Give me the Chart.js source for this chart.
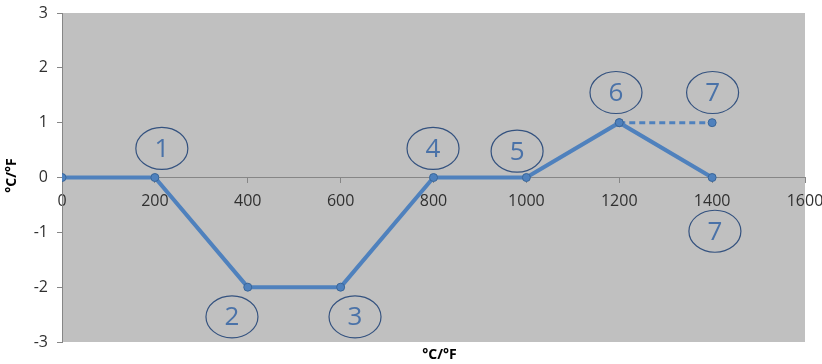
<!DOCTYPE html>
<html>
<head>
<meta charset="utf-8">
<script src="https://cdn.jsdelivr.net/npm/chart.js@4.4.0/dist/chart.umd.min.js"></script>
<style>
  html, body { margin: 0; padding: 0; background: #fff; }
  #wrap { width: 822px; height: 364px; }
</style>
</head>
<body>
<div id="wrap"><canvas id="chart"></canvas></div>
<script>
// main path
const xValues = [0, 200, 400, 600, 800, 1000, 1200, 1400];
const yValues = [0, 0, -2, -2, 0, 0, 1, 0];
// dashed branch
const altX = [1200, 1400];
const altY = [1, 1];
// circled step numbers (data coords)
const stepLabels = ['1', '2', '3', '4', '5', '6', '7', '7'];
const stepX = [215, 366, 631, 799, 980, 1193, 1401, 1406];
const stepY = [0.53, -2.54, -2.54, 0.53, 0.48, 1.55, 1.55, -0.98];
const axisTitle = '°C/°F';

const blue = '#4f81bd';
const axisGrey = '#868686';

const plotBg = {
  id: 'plotBg',
  beforeDraw(chart) {
    const { ctx, chartArea: a } = chart;
    ctx.save();
    ctx.fillStyle = '#c0c0c0';
    ctx.fillRect(a.left, a.top, a.right - a.left, a.bottom - a.top);
    ctx.restore();
  }
};

const extras = {
  id: 'extras',
  afterDatasetsDraw(chart) {
    const { ctx, chartArea: a } = chart;
    const xs = chart.scales.x, ys = chart.scales.y;
    ctx.save();
    // circled numbers
    ctx.font = '26px "Open Sans", sans-serif';
    ctx.textAlign = 'center';
    ctx.textBaseline = 'middle';
    stepLabels.forEach((t, i) => {
      const cx = xs.getPixelForValue(stepX[i]);
      const cy = ys.getPixelForValue(stepY[i]);
      ctx.beginPath();
      ctx.ellipse(cx, cy, 26, 21, 0, 0, Math.PI * 2);
      ctx.strokeStyle = '#34527f';
      ctx.lineWidth = 1.2;
      ctx.stroke();
      ctx.fillStyle = '#4a72a8';
      ctx.fillText(t, cx, cy + 1);
    });
    // axis titles
    ctx.fillStyle = '#000';
    ctx.font = 'bold 14px "Open Sans", sans-serif';
    ctx.fillText(axisTitle, (a.left + a.right) / 2 + 6, 355);
    ctx.translate(12, ys.getPixelForValue(0) - 2);
    ctx.rotate(-Math.PI / 2);
    ctx.fillText(axisTitle, 0, 0);
    ctx.restore();
  }
};

new Chart(document.getElementById('chart'), {
  type: 'scatter',
  data: {
    datasets: [
      {
        data: xValues.map((x, i) => ({ x, y: yValues[i] })),
        showLine: true,
        borderColor: blue,
        borderWidth: 4,
        pointRadius: 4,
        pointBackgroundColor: blue,
        pointBorderColor: '#3a6699',
        pointBorderWidth: 1
      },
      {
        data: altX.map((x, i) => ({ x, y: altY[i] })),
        showLine: true,
        borderColor: blue,
        borderWidth: 3,
        borderDash: [6, 4],
        pointRadius: 4,
        pointBackgroundColor: blue,
        pointBorderColor: '#3a6699',
        pointBorderWidth: 1
      }
    ]
  },
  options: {
    responsive: true,
    maintainAspectRatio: false,
    animation: false,
    layout: { padding: { top: 13, right: 17, bottom: 22, left: 0 } },
    plugins: { legend: { display: false }, tooltip: { enabled: false } },
    scales: {
      x: {
        type: 'linear',
        position: { y: 0 },
        min: 0,
        max: 1600,
        ticks: {
          stepSize: 200, color: '#303030', padding: 9,
          font: { family: 'Open Sans', size: 16 },
          callback: v => String(v)
        },
        grid: { drawOnChartArea: false, tickLength: 5, color: axisGrey },
        border: { display: true, color: axisGrey, width: 1 },
        afterFit(scale) { scale.paddingLeft = 0; scale.paddingRight = 0; }
      },
      y: {
        min: -3,
        max: 3,
        ticks: { stepSize: 1, color: '#303030', padding: 9, font: { family: 'Open Sans', size: 16 } },
        grid: { drawOnChartArea: false, tickLength: 5, color: axisGrey },
        border: { display: true, color: axisGrey, width: 1 },
        afterFit(scale) { scale.width = 62; scale.paddingTop = 0; scale.paddingBottom = 0; }
      }
    }
  },
  plugins: [plotBg, extras]
});
</script>
</body>
</html>
